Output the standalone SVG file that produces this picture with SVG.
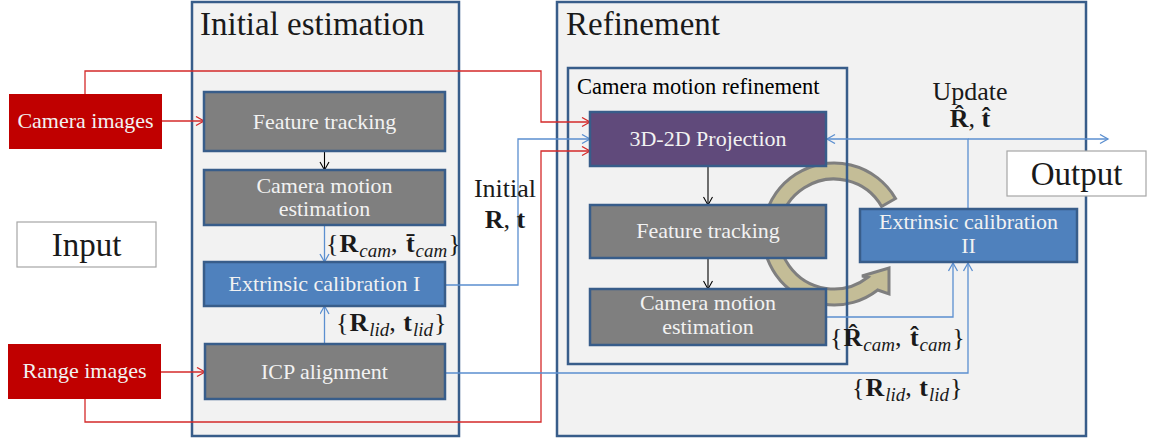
<svg xmlns="http://www.w3.org/2000/svg" width="1149" height="441" viewBox="0 0 1149 441">
<style>
.frame{fill:#f2f2f2;stroke:#385d8a;stroke-width:2.5}
.node{stroke:#385d8a;stroke-width:2.5}
.gray{fill:#7f7f7f}
.blue{fill:#4f81bd}
.purple{fill:#604a7b}
.red{fill:#c00000}
.io{fill:#ffffff;stroke:#a6a6a6;stroke-width:1.2}
.nt{font-family:"Liberation Serif",serif;font-size:22px;fill:#f2f2f2;text-anchor:middle}
.title{font-family:"Liberation Serif",serif;font-size:33px;fill:#1a1a1a}
.lbl{font-family:"Liberation Serif",serif;font-size:26px;fill:#1a1a1a}
.c{text-anchor:middle}
.b{font-weight:bold}
.sub{font-style:italic;font-size:19px}
.cr{fill:none;stroke:#d42a2a;stroke-width:1.3}
.cb{fill:none;stroke:#5b8fd0;stroke-width:1.3}
.ck{fill:none;stroke:#000000;stroke-width:1.1}
</style>
<defs>
<marker id="ar" markerUnits="userSpaceOnUse" markerWidth="12" markerHeight="12" refX="9" refY="5" orient="auto"><path d="M1,0.5 L9,5 L1,9.5" fill="none" stroke="#d42a2a" stroke-width="1.3"/></marker>
<marker id="ab" markerUnits="userSpaceOnUse" markerWidth="12" markerHeight="12" refX="9" refY="5" orient="auto"><path d="M1,0.5 L9,5 L1,9.5" fill="none" stroke="#5b8fd0" stroke-width="1.3"/></marker>
<marker id="ak" markerUnits="userSpaceOnUse" markerWidth="12" markerHeight="12" refX="9" refY="5" orient="auto"><path d="M1,0.5 L9,5 L1,9.5" fill="none" stroke="#000000" stroke-width="1.1"/></marker>
</defs>

<g id="initial-estimation">
<rect class="frame" x="192" y="2" width="267" height="434"/>
<text class="title" x="200" y="35">Initial estimation</text>
</g>
<g id="refinement">
<rect class="frame" x="557" y="2" width="529" height="434"/>
<text class="title" x="566" y="35">Refinement</text>
</g>
<g id="camera-motion-refinement">
<rect x="568" y="68" width="279" height="296" fill="#f2f2f2"/>
<path id="cycle-arrow" d="M895.5,198.5 A71,71 0 1 0 877.7,290 L889,294 L889,268 L862,276 L867.9,277.3 A55,55 0 1 1 881.6,206.5 Z" fill="#c4bd97" stroke="#7f7f7f" stroke-width="3" stroke-linejoin="miter"/>
<rect x="568" y="68" width="279" height="296" fill="none" stroke="#385d8a" stroke-width="2.5"/>
<text x="577" y="94" font-family="Liberation Serif, serif" font-size="22.5" fill="#000">Camera motion refinement</text>
</g>

<g id="connectors">
<path class="cr" d="M162,121 H204" marker-end="url(#ar)"/>
<path class="cr" d="M85,94 V71 H541 V122 H590" marker-end="url(#ar)"/>
<path class="cr" d="M161,372 H205" marker-end="url(#ar)"/>
<path class="cr" d="M85,399 V422 H541 V151 H590" marker-end="url(#ar)"/>
<path class="ck" d="M324.5,151 V170" marker-end="url(#ak)"/>
<path class="cb" d="M324.5,225 V262" marker-end="url(#ab)"/>
<path class="cb" d="M324.5,344 V306" marker-end="url(#ab)"/>
<path class="cb" d="M445,285 H518 V139 H590" marker-end="url(#ab)"/>
<path class="cb" d="M445,373 H968 V263" marker-end="url(#ab)"/>
<path class="cb" d="M826,317 H953 V263" marker-end="url(#ab)"/>
<path class="ck" d="M708,166 V205" marker-end="url(#ak)"/>
<path class="ck" d="M708,258 V289" marker-end="url(#ak)"/>
<path class="cb" d="M968,209 V139 H827" marker-end="url(#ab)"/>
<path class="cb" d="M968,139 H1108" marker-end="url(#ab)"/>
</g>

<g id="camera-images">
<rect class="red" x="9" y="94" width="153" height="55"/>
<text class="nt" x="85.5" y="128">Camera images</text>
</g>
<g id="range-images">
<rect class="red" x="8" y="344" width="153" height="55"/>
<text class="nt" x="84.5" y="378">Range images</text>
</g>
<g id="input">
<rect class="io" x="17" y="222" width="139" height="45"/>
<text class="title c" x="86.5" y="256">Input</text>
</g>
<g id="output">
<rect class="io" x="1007" y="151" width="139" height="45"/>
<text class="title c" x="1076.5" y="185">Output</text>
</g>

<g id="feature-tracking-1">
<rect class="node gray" x="204" y="92" width="241" height="59"/>
<text class="nt" x="324.5" y="129">Feature tracking</text>
</g>
<g id="camera-motion-estimation-1">
<rect class="node gray" x="204" y="170" width="241" height="55"/>
<text class="nt" x="324.5" y="193">Camera motion</text>
<text class="nt" x="324.5" y="216">estimation</text>
</g>
<g id="extrinsic-calibration-1">
<rect class="node blue" x="204" y="262" width="241" height="44"/>
<text class="nt" x="324.5" y="291">Extrinsic calibration I</text>
</g>
<g id="icp-alignment">
<rect class="node gray" x="205" y="344" width="240" height="55"/>
<text class="nt" x="324.5" y="379">ICP alignment</text>
</g>

<g id="projection">
<rect class="node purple" x="590" y="112" width="236" height="54"/>
<text class="nt" x="708" y="146">3D-2D Projection</text>
</g>
<g id="feature-tracking-2">
<rect class="node gray" x="590" y="205" width="236" height="53"/>
<text class="nt" x="708" y="238">Feature tracking</text>
</g>
<g id="camera-motion-estimation-2">
<rect class="node gray" x="590" y="289" width="236" height="56"/>
<text class="nt" x="708" y="310">Camera motion</text>
<text class="nt" x="708" y="334">estimation</text>
</g>
<g id="extrinsic-calibration-2">
<rect class="node blue" x="860" y="209" width="217" height="53"/>
<text class="nt" x="968.5" y="229">Extrinsic calibration</text>
<text class="nt" x="968.5" y="253">II</text>
</g>

<g id="labels">
<text class="lbl" x="326" y="252">{<tspan class="b" dx="1">R</tspan><tspan class="sub" dx="1" dy="5">cam</tspan><tspan dy="-5">, </tspan><tspan class="b" dx="2">t̄</tspan><tspan class="sub" dx="1" dy="5">cam</tspan><tspan dx="1" dy="-5">}</tspan></text>
<text class="lbl" x="336" y="331">{<tspan class="b" dx="1">R</tspan><tspan class="sub" dx="1" dy="5">lid</tspan><tspan dy="-5">, </tspan><tspan class="b" dx="1">t</tspan><tspan class="sub" dx="1" dy="5">lid</tspan><tspan dx="1" dy="-5">}</tspan></text>
<text class="lbl" x="830" y="346">{<tspan class="b" dx="1">R̂</tspan><tspan class="sub" dx="1" dy="5">cam</tspan><tspan dy="-5">, </tspan><tspan class="b" dx="2">t̂</tspan><tspan class="sub" dx="1" dy="5">cam</tspan><tspan dx="1" dy="-5">}</tspan></text>
<text class="lbl" x="852" y="396">{<tspan class="b" dx="1">R</tspan><tspan class="sub" dx="1" dy="5">lid</tspan><tspan dy="-5">, </tspan><tspan class="b" dx="1">t</tspan><tspan class="sub" dx="1" dy="5">lid</tspan><tspan dx="1" dy="-5">}</tspan></text>
<text class="lbl c" x="505" y="197" font-size="25">Initial</text>
<text class="lbl c" x="505" y="228"><tspan class="b">R</tspan>, <tspan class="b">t</tspan></text>
<text class="lbl c" x="970" y="100" font-size="25">Update</text>
<text class="lbl c" x="970" y="127"><tspan class="b">R̂</tspan>, <tspan class="b">t̂</tspan></text>
</g>
</svg>
